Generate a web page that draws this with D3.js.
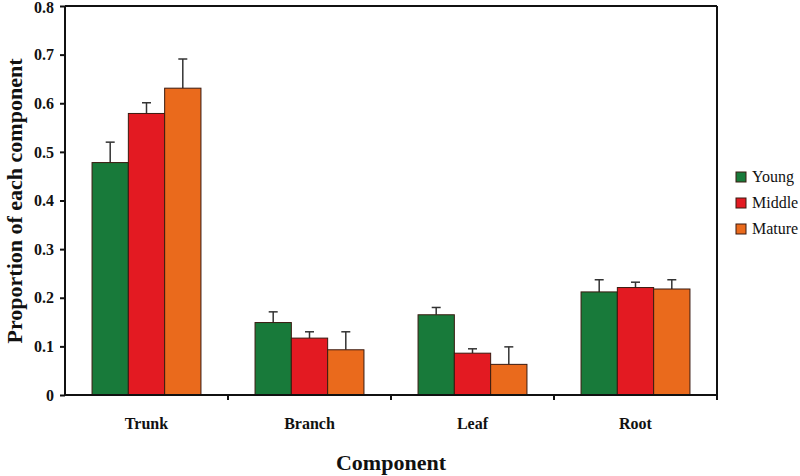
<!DOCTYPE html>
<html><head><meta charset="utf-8">
<script src="https://cdn.jsdelivr.net/npm/d3@7"></script>
<style>body{margin:0;background:#fff}svg{display:block}text{font-family:"Liberation Serif","Times New Roman",serif}</style>
</head><body><svg id="c" width="800" height="476"></svg>
<script>
const categories = ["Trunk","Branch","Leaf","Root"];
const seriesNames = ["Young","Middle","Mature"];
const young  = [0.478, 0.149, 0.165, 0.212];
const middle = [0.579, 0.117, 0.086, 0.221];
const mature = [0.631, 0.093, 0.063, 0.218];
const youngErr  = [0.042, 0.022, 0.015, 0.025];
const middleErr = [0.022, 0.013, 0.009, 0.011];
const matureErr = [0.060, 0.037, 0.036, 0.019];
const yTicks = [0,0.1,0.2,0.3,0.4,0.5,0.6,0.7,0.8];
const colors = ["#187a3a","#e31a22","#ea6a1c"];

const values = [young, middle, mature];
const errs = [youngErr, middleErr, matureErr];
const svg = d3.select("#c");
const L = 65, R = 717, T = 6, B = 395;
const x = d3.scaleBand().domain(categories).range([L, R]).paddingInner(0).paddingOuter(0);
const inner = d3.scaleBand().domain(seriesNames).range([0, x.bandwidth()]).paddingInner(0).paddingOuter(0.745);
const y = d3.scaleLinear().domain([0, 0.8]).range([B, T]);

// frame top/right
svg.append("line").attr("x1", L).attr("x2", R).attr("y1", T).attr("y2", T).attr("stroke","#111").attr("stroke-width",2);
svg.append("line").attr("x1", R).attr("x2", R).attr("y1", T).attr("y2", B+5).attr("stroke","#111").attr("stroke-width",2);

// bars
seriesNames.forEach((s, si) => {
  const g = svg.append("g");
  categories.forEach((c, ci) => {
    const v = values[si][ci], e = errs[si][ci];
    const bx = x(c) + inner(s), bw = inner.bandwidth();
    const cx = bx + bw/2;
    g.append("line").attr("x1", cx).attr("x2", cx).attr("y1", y(v)).attr("y2", y(v+e)).attr("stroke","#333").attr("stroke-width",1.5);
    g.append("line").attr("x1", cx-4.5).attr("x2", cx+4.5).attr("y1", y(v+e)).attr("y2", y(v+e)).attr("stroke","#333").attr("stroke-width",1.5);
    g.append("rect").attr("x", bx).attr("y", y(v)).attr("width", bw).attr("height", B - y(v))
      .attr("fill", colors[si]).attr("stroke","#3a1a10").attr("stroke-width",1);
  });
});

// y axis
const ya = svg.append("g").attr("transform",`translate(${L},0)`)
  .call(d3.axisLeft(y).tickValues(yTicks).tickSize(5).tickPadding(6).tickFormat(d => d === 0 ? "0" : d3.format(".1f")(d)));
ya.select(".domain").attr("stroke","#111").attr("stroke-width",2).attr("d", `M0,${T}V${B}`);
ya.selectAll(".tick line").attr("stroke","#111").attr("stroke-width",2);
ya.selectAll("text").attr("font-size",16).attr("font-weight","bold").attr("fill","#111")
  .style("font-family","'Liberation Serif',serif");
ya.selectAll(".tick text").filter(d => d === 0.8).attr("dy","0.42em");

// x axis
const xa = svg.append("g").attr("transform",`translate(0,${B})`);
xa.append("line").attr("x1", L).attr("x2", R).attr("y1",0).attr("y2",0).attr("stroke","#111").attr("stroke-width",2);
categories.slice(1).forEach(c => {
  xa.append("line").attr("x1", x(c)).attr("x2", x(c)).attr("y1",0).attr("y2",5).attr("stroke","#111").attr("stroke-width",2);
});
categories.forEach(c => {
  xa.append("text").attr("x", x(c) + x.bandwidth()/2).attr("y", 34).attr("text-anchor","middle")
    .attr("font-size",16).attr("font-weight","bold").attr("fill","#111").text(c);
});

// axis titles
svg.append("text").attr("x", 391).attr("y", 470).attr("text-anchor","middle")
  .attr("font-size",22).attr("font-weight","bold").attr("fill","#111").text("Component");
svg.append("text").attr("transform","translate(22,201) rotate(-90)").attr("text-anchor","middle")
  .attr("font-size",22).attr("font-weight","bold").attr("fill","#111").text("Proportion of each component");

// legend
seriesNames.forEach((s, i) => {
  const ly = 177 + i*26;
  svg.append("rect").attr("x", 736).attr("y", ly-5).attr("width",10).attr("height",10)
    .attr("fill", colors[i]).attr("stroke","#3a1a10").attr("stroke-width",1);
  svg.append("text").attr("x", 752).attr("y", ly+5).attr("font-size",16).attr("fill","#111").text(s);
});
</script></body></html>
